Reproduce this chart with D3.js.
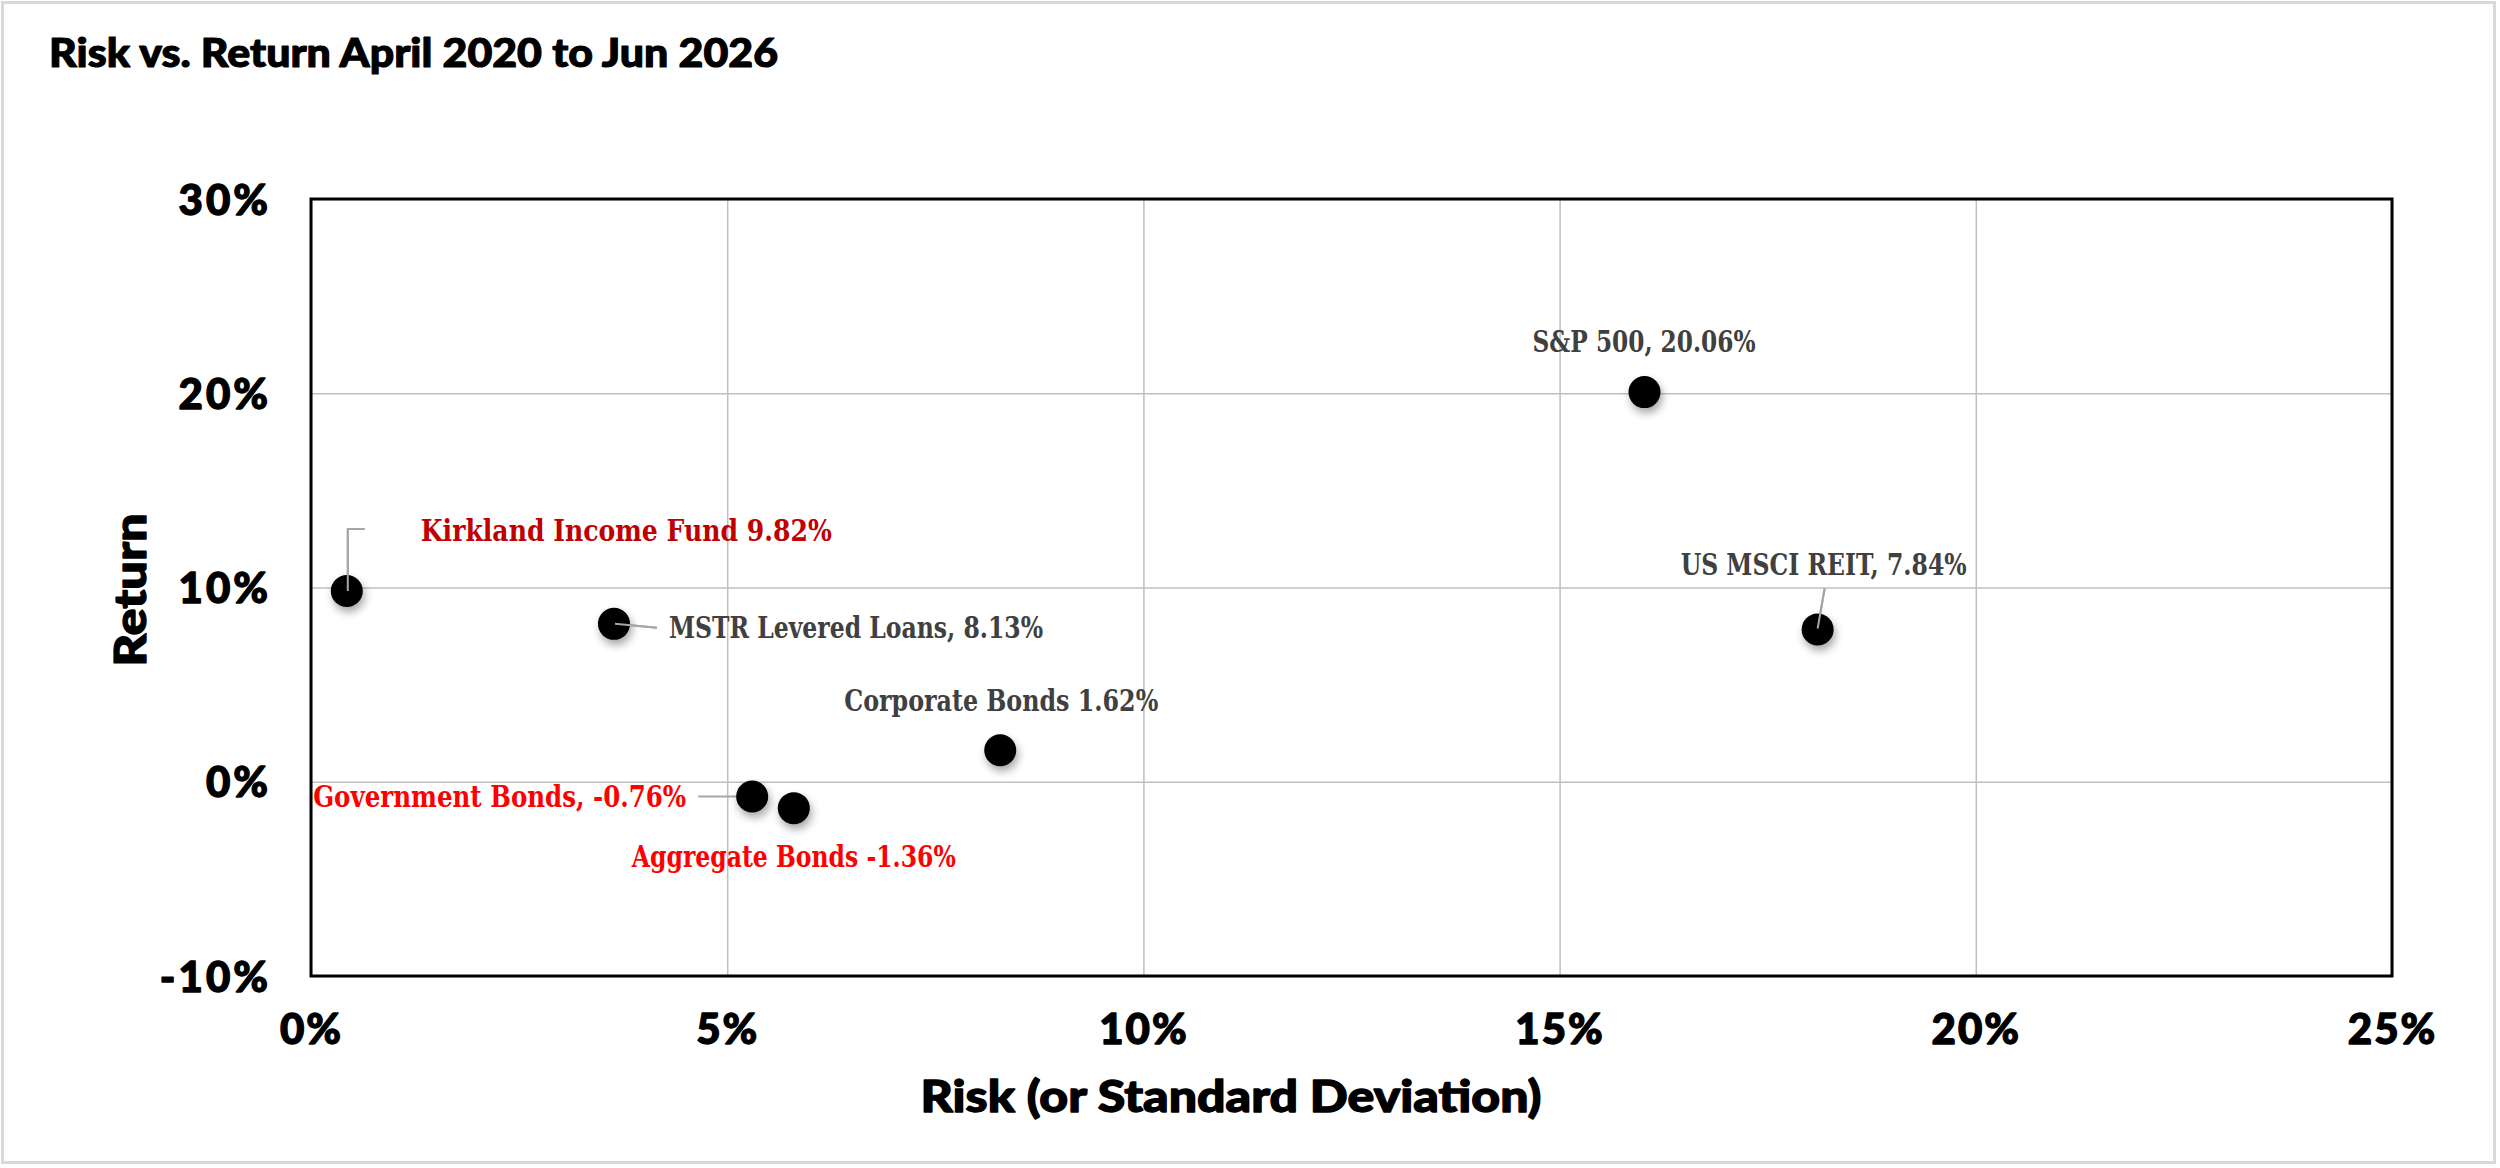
<!DOCTYPE html>
<html><head><meta charset="utf-8">
<script src="https://cdn.jsdelivr.net/npm/d3@7/dist/d3.min.js"></script>
<style>
html,body{margin:0;padding:0;background:#fff;}
svg{display:block;}
</style></head>
<body>
<svg id="chart" width="2500" height="1168"></svg>
<script>
// ---- data ----
const names = ["Kirkland Income Fund", "MSTR Levered Loans", "Government Bonds", "Aggregate Bonds", "Corporate Bonds", "S&P 500", "US MSCI REIT"];
const risk = [0.43, 3.64, 5.30, 5.80, 8.28, 16.02, 18.10];
const returns = [9.82, 8.13, -0.76, -1.36, 1.62, 20.06, 7.84];
const labelTexts = ["Kirkland Income Fund 9.82%", "MSTR Levered Loans, 8.13%", "Government Bonds, -0.76%", "Aggregate Bonds -1.36%", "Corporate Bonds 1.62%", "S&P 500, 20.06%", "US MSCI REIT, 7.84%"];
const xTicks = [0, 5, 10, 15, 20, 25];
const yTicks = [-10, 0, 10, 20, 30];
const titleText = "Risk vs. Return April 2020 to Jun 2026";
const xTitle = "Risk (or Standard Deviation)";
const yTitle = "Return";

// ---- layout / style ----
const labelStyle = [
  {color:"#C00000", dx:74, dy:-50, anchor:"start", w:411, leader:[[1,0],[1,-62],[18,-62]]},
  {color:"#404040", dx:55, dy:14, anchor:"start", w:374, leader:[[1,0],[43,4]]},
  {color:"#FF0000", dx:-66, dy:10, anchor:"end", w:373, leader:[[-54,0],[0,0]]},
  {color:"#FF0000", dx:-162, dy:59, anchor:"start", w:324, leader:null},
  {color:"#404040", dx:-156, dy:-39, anchor:"start", w:314, leader:null},
  {color:"#404040", dx:-112, dy:-40, anchor:"start", w:223, leader:null},
  {color:"#404040", dx:-137, dy:-54, anchor:"start", w:286, leader:[[0,-1],[7,-41]]}
];
const sansFont = "'Lato Black', Lato, sans-serif";
const serifFont = "'DejaVu Serif Condensed', 'DejaVu Serif', serif";
const heavy = sel => sel.attr("font-family",sansFont).attr("font-weight",900).attr("fill","#000")
  .attr("stroke","#000").attr("stroke-width",1.3).attr("stroke-linejoin","round");

const svg = d3.select("#chart");
const L = 311, R = 2392, T = 199, B = 976;

// outer frame
svg.append("rect").attr("x",2.5).attr("y",2.5).attr("width",2492).attr("height",1160)
  .attr("fill","#fff").attr("stroke","#D9D9D9").attr("stroke-width",3);

const defs = svg.append("defs");
const f = defs.append("filter").attr("id","shadow").attr("x","-50%").attr("y","-50%").attr("width","200%").attr("height","200%");
f.append("feDropShadow").attr("dx",2).attr("dy",5).attr("stdDeviation",4).attr("flood-color","#000").attr("flood-opacity",0.35);

const x = d3.scaleLinear().domain([0,25]).range([L,R]);
const y = d3.scaleLinear().domain([-10,30]).range([B,T]);

// gridlines
svg.append("g").attr("class","xgrid")
  .attr("transform",`translate(0,${B})`)
  .call(d3.axisBottom(x).tickValues(xTicks).tickSize(-(B-T)).tickFormat(""))
  .call(g=>g.select(".domain").remove())
  .call(g=>g.selectAll("line").attr("stroke","#BFBFBF").attr("stroke-width",1.5));
svg.append("g").attr("class","ygrid")
  .attr("transform",`translate(${L},0)`)
  .call(d3.axisLeft(y).tickValues(yTicks).tickSize(-(R-L)).tickFormat(""))
  .call(g=>g.select(".domain").remove())
  .call(g=>g.selectAll("line").attr("stroke","#BFBFBF").attr("stroke-width",1.5));

// plot border
svg.append("rect").attr("x",L).attr("y",T).attr("width",R-L).attr("height",B-T)
  .attr("fill","none").attr("stroke","#000").attr("stroke-width",3);

// tick labels
svg.append("g").attr("class","xlabels")
  .attr("transform",`translate(0,${B})`)
  .call(d3.axisBottom(x).tickValues(xTicks).tickSize(0).tickPadding(68).tickFormat(d=>d+"%"))
  .call(g=>g.select(".domain").remove())
  .call(g=>g.selectAll("text").call(heavy).attr("font-size",42).attr("letter-spacing",2).attr("dy",0));
svg.append("g").attr("class","ylabels")
  .attr("transform",`translate(${L},0)`)
  .call(d3.axisLeft(y).tickValues(yTicks).tickSize(0).tickPadding(40).tickFormat(d=>d+"%"))
  .call(g=>g.select(".domain").remove())
  .call(g=>g.selectAll("text").call(heavy).attr("font-size",42).attr("letter-spacing",3).attr("dy","0.36em"));

// titles
svg.append("text").attr("x",49).attr("y",67).text(titleText).call(heavy)
  .attr("font-size",40).attr("stroke-width",1.1)
  .attr("textLength",729).attr("lengthAdjust","spacingAndGlyphs");
svg.append("text").attr("x",1231).attr("y",1112).attr("text-anchor","middle").text(xTitle).call(heavy)
  .attr("font-size",44)
  .attr("textLength",621).attr("lengthAdjust","spacingAndGlyphs");
svg.append("text").attr("transform","translate(146,590) rotate(-90)").attr("text-anchor","middle").text(yTitle).call(heavy)
  .attr("font-size",44)
  .attr("textLength",153).attr("lengthAdjust","spacingAndGlyphs");

const data = names.map((n,i)=>({name:n, risk:risk[i], ret:returns[i], label:labelTexts[i], st:labelStyle[i]}));

// leader lines
svg.append("g").selectAll("path").data(data.filter(d=>d.st.leader)).join("path")
  .attr("d",d=>{const px=x(d.risk), py=y(d.ret); return d3.line()(d.st.leader.map(p=>[px+p[0],py+p[1]]));})
  .attr("fill","none").attr("stroke","#A6A6A6").attr("stroke-width",2);

// points
svg.append("g").selectAll("circle").data(data).join("circle")
  .attr("cx",d=>x(d.risk)).attr("cy",d=>y(d.ret)).attr("r",16)
  .attr("fill","#000").attr("filter","url(#shadow)");

// leader segments visible on top of the markers
svg.append("g").selectAll("path").data(data.filter(d=>d.st.leader && (d.st.leader[0][1]!==0 || d.st.leader[0][0]>0))).join("path")
  .attr("d",d=>{const px=x(d.risk), py=y(d.ret); return d3.line()(d.st.leader.slice(0,2).map(p=>[px+p[0],py+p[1]]));})
  .attr("fill","none").attr("stroke","#A6A6A6").attr("stroke-width",2);

// data labels
svg.append("g").selectAll("text").data(data).join("text")
  .attr("x",d=>x(d.risk)+d.st.dx).attr("y",d=>y(d.ret)+d.st.dy)
  .attr("text-anchor",d=>d.st.anchor).attr("fill",d=>d.st.color)
  .attr("font-family",serifFont).attr("font-weight","bold").attr("font-size",30)
  .attr("textLength",d=>d.st.w).attr("lengthAdjust","spacingAndGlyphs")
  .text(d=>d.label);
</script>
</body></html>
